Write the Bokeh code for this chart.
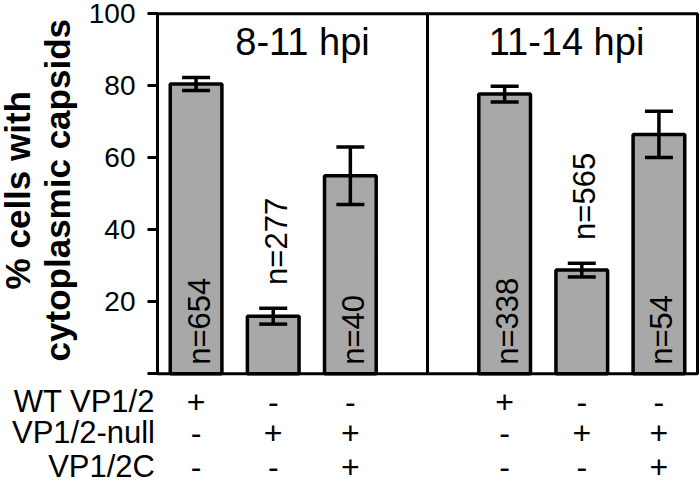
import math
from bokeh.plotting import figure
from bokeh.models import (Range1d, FixedTicker, Label, LabelSet, LinearAxis,
                          ColumnDataSource, Whisker, TeeHead)
from bokeh.core.properties import value
from bokeh.embed import file_html
from bokeh.resources import INLINE

# ---------------- data ----------------
time_groups = ["8-11 hpi", "11-14 hpi"]
row_names = ["WT VP1/2", "VP1/2-null", "VP1/2C"]
wt_vp12 = ["+", "-", "-", "+", "-", "-"]
vp12_null = ["-", "+", "+", "-", "+", "+"]
vp12c = ["-", "-", "+", "-", "-", "+"]
pct_cells = [80.5, 16.0, 55.0, 77.7, 28.8, 66.5]
sem = [1.8, 2.2, 8.0, 2.2, 1.9, 6.4]
n_cells = [654, 277, 40, 338, 565, 54]
n_inside = [True, False, True, True, False, True]
y_ticks = [0, 20, 40, 60, 80, 100]

FONT = "Liberation Sans"
BAR_GRAY = "#a8a8a8"

# ---------------- layout (pixels) ----------------
W, H = 700, 483
PLOT_L, PLOT_R, PLOT_T, PLOT_B = 157.0, 697.0, 13.3, 373.3
X0, X1 = 0.5, 7.5          # slot range of the plot box
Y0, Y1 = 0.0, 100.0
PX_X = (PLOT_R - PLOT_L) / (X1 - X0)
PX_Y = (PLOT_B - PLOT_T) / (Y1 - Y0)
x_range = Range1d(X0 - PLOT_L / PX_X, X1 + (W - PLOT_R) / PX_X)
y_range = Range1d(Y0 - (H - PLOT_B) / PX_Y, Y1 + PLOT_T / PX_Y)

# bar slots: 3 per group, one empty slot between groups
xs = [g * 4 + i + 1 for g in range(len(time_groups)) for i in range(3)]
upper = [v + e for v, e in zip(pct_cells, sem)]
lower = [v - e for v, e in zip(pct_cells, sem)]
n_y = [2.5 if inside else up + 6.5 for inside, up in zip(n_inside, upper)]
n_text = ["n=%d" % n for n in n_cells]

src = ColumnDataSource(dict(x=xs, pct=pct_cells, upper=upper, lower=lower,
                            ny=n_y, ntext=n_text))

p = figure(width=W, height=H, x_range=x_range, y_range=y_range,
           x_axis_type=None, y_axis_type=None,
           output_backend="svg", toolbar_location=None,
           min_border=0)
p.outline_line_color = None
p.grid.grid_line_color = None
p.background_fill_color = "white"
p.border_fill_color = "white"

# y axis at the left edge of the plot box
ax = LinearAxis(fixed_location=X0, bounds=(Y0, Y1))
ax.ticker = FixedTicker(ticks=y_ticks)
ax.major_label_overrides = {0: ""}
ax.axis_line_width = 3
ax.major_tick_line_width = 3
ax.major_tick_out = 10
ax.major_tick_in = 0
ax.minor_tick_line_color = None
ax.major_label_text_font = FONT
ax.major_label_text_font_size = "28px"
ax.major_label_text_color = "black"
ax.major_label_standoff = 12
p.add_layout(ax, "left")

# bars
p.vbar(x="x", top="pct", bottom=Y0, width=0.67, source=src,
       fill_color=BAR_GRAY, line_color="black", line_width=3.5)

# plot box and divider between time groups
p.quad(left=[X0], right=[X1], bottom=[Y0], top=[Y1], fill_color=None,
       line_color="black", line_width=3)
mid = (xs[2] + xs[3]) / 2
p.segment(x0=[mid], y0=[Y0], x1=[mid], y1=[Y1], line_color="black",
          line_width=3)

# error bars
wh = Whisker(base="x", upper="upper", lower="lower", source=src,
             line_width=3.5, line_color="black", level="annotation",
             upper_head=TeeHead(size=28, line_width=3.5, line_color="black"),
             lower_head=TeeHead(size=28, line_width=3.5, line_color="black"))
p.add_layout(wh)

# n labels
p.add_layout(LabelSet(x="x", y="ny", text="ntext", source=src,
                      angle=math.pi / 2, text_align="left",
                      text_baseline="middle", text_font=value(FONT),
                      text_font_size=value("31px"), text_color="black",
                      x_offset=3))

# group titles (centred on each panel, nudged right in px)
title_nudge_px = [10, 4]
for g, name in enumerate(time_groups):
    left = X0 if g == 0 else mid
    right = mid if g == 0 else X1
    p.add_layout(Label(x=(left + right) / 2, y=Y1 - 28.4 / PX_Y, text=name,
                       text_align="center", text_baseline="middle",
                       text_font=FONT, text_font_size="38px",
                       text_color="black", x_offset=title_nudge_px[g]))

# y-axis title (two lines), centre lines in px left of the axis
for txt, off in [("% cells with", 140.5), ("cytoplasmic capsids", 100.5)]:
    p.add_layout(Label(x=X0 - off / PX_X, y=51, text=txt, angle=math.pi / 2,
                       text_align="center", text_baseline="middle",
                       text_font=FONT, text_font_style="bold",
                       text_font_size="35px", text_color="black"))

# condition table below the bars (row centres in px below the x axis)
row_center_px = [27.7, 58.9, 92.7]
row_y = [Y0 - d / PX_Y for d in row_center_px]
rows = [wt_vp12, vp12_null, vp12c]
sx_all, sy_all, st_all = [], [], []
for signs, yb in zip(rows, row_y):
    sx_all += xs
    sy_all += [yb] * len(xs)
    st_all += signs
sign_src = ColumnDataSource(dict(x=sx_all, y=sy_all, t=st_all))
p.add_layout(LabelSet(x="x", y="y", text="t", source=sign_src,
                      text_align="center", text_baseline="middle",
                      text_font=value(FONT), text_font_size=value("32px"),
                      text_color="black"))
for name, yb in zip(row_names, row_y):
    p.add_layout(Label(x=X0 - 2.5 / PX_X, y=yb, text=name,
                       text_align="right", text_baseline="middle",
                       text_font=FONT, text_font_size="31px",
                       text_color="black"))

open("out.html", "w").write(file_html(p, INLINE))
